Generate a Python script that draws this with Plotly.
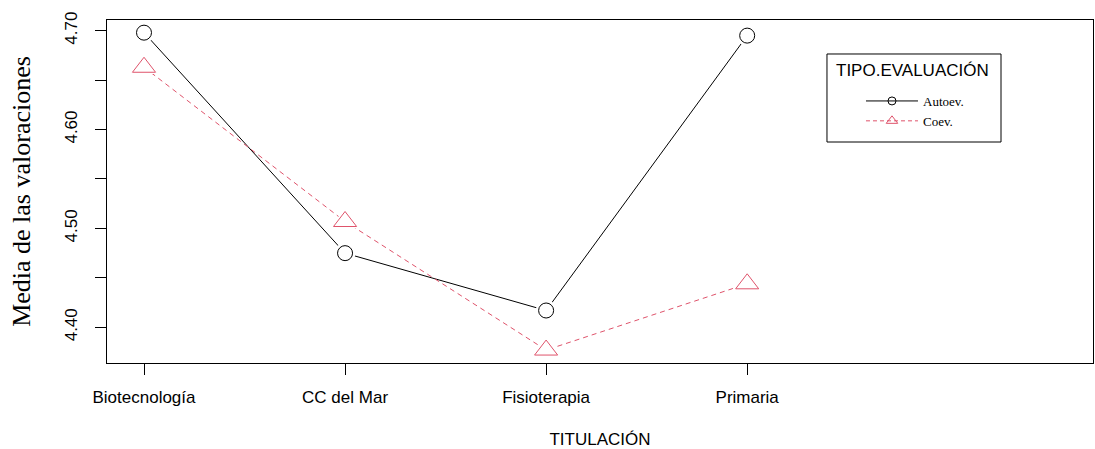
import plotly.graph_objects as go

categories = ["Biotecnología", "CC del Mar", "Fisioterapia", "Primaria"]
autoev = [4.698, 4.475, 4.417, 4.695]
coev = [4.663, 4.507, 4.377, 4.444]
ytick_vals = [4.40, 4.45, 4.50, 4.55, 4.60, 4.65, 4.70]
ytick_text = ["4.40", "", "4.50", "", "4.60", "", "4.70"]
legend_title = "TIPO.EVALUACIÓN"

RED = "#DF536B"
xpos = list(range(1, len(categories) + 1))

fig = go.Figure()

# lines
fig.add_trace(go.Scatter(x=xpos, y=autoev, mode="lines", line=dict(color="black", width=1),
                         showlegend=False, hoverinfo="skip"))
fig.add_trace(go.Scatter(x=xpos, y=coev, mode="lines", line=dict(color=RED, width=1, dash="5px,4px"),
                         showlegend=False, hoverinfo="skip"))
# white halos (emulate type="b" gaps)
fig.add_trace(go.Scatter(x=xpos, y=autoev, mode="markers",
                         marker=dict(symbol="circle", size=21, color="white", line=dict(width=0)),
                         showlegend=False, hoverinfo="skip"))
fig.add_trace(go.Scatter(x=xpos, y=coev, mode="markers",
                         marker=dict(symbol="triangle-up", size=27, color="white", line=dict(width=0)),
                         showlegend=False, hoverinfo="skip"))
# markers
fig.add_trace(go.Scatter(x=xpos, y=autoev, mode="markers", name="Autoev.",
                         marker=dict(symbol="circle-open", size=15, color="black", line=dict(width=1)),
                         showlegend=False))
fig.add_trace(go.Scatter(x=xpos, y=coev, mode="markers", name="Coev.",
                         marker=dict(symbol="triangle-up-open", size=20, color=RED, line=dict(width=1)),
                         showlegend=False))
# legend entries
fig.add_trace(go.Scatter(x=[None], y=[None], mode="lines+markers", name="Autoev.",
                         line=dict(color="black", width=1),
                         marker=dict(symbol="circle-open", size=8, color="black", line=dict(width=1))))
fig.add_trace(go.Scatter(x=[None], y=[None], mode="lines+markers", name="Coev.",
                         line=dict(color=RED, width=1, dash="4px,3px"),
                         marker=dict(symbol="triangle-up-open", size=10, color=RED, line=dict(width=1))))

fig.update_layout(
    width=1095, height=449,
    margin=dict(l=107, r=2, t=20, b=86, autoexpand=False),
    paper_bgcolor="white", plot_bgcolor="white",
    font=dict(family="Liberation Sans", size=17, color="black"),
    xaxis=dict(
        automargin=False,
        range=[0.816, 5.72], tickvals=xpos, ticktext=categories,
        showline=True, mirror=True, linecolor="black", linewidth=1,
        ticks="outside", ticklen=11, tickcolor="black", tickwidth=1,
        showgrid=False, zeroline=False, ticklabelstandoff=8,
        tickfont=dict(family="Liberation Sans", size=17, color="black"),
        title=dict(text="TITULACIÓN", font=dict(family="Liberation Sans", size=17, color="black"), standoff=30),
    ),
    yaxis=dict(
        automargin=False,
        range=[4.3639, 4.7108], tickvals=ytick_vals, ticktext=ytick_text,
        showline=True, mirror=True, linecolor="black", linewidth=1,
        ticks="outside", ticklen=11, tickcolor="black", tickwidth=1,
        showgrid=False, zeroline=False, tickangle=-90, ticklabelstandoff=11,
        tickfont=dict(family="Liberation Sans", size=17, color="black"),
        title=dict(text="Media de las valoraciones", font=dict(family="Liberation Serif", size=26, color="black"), standoff=24),
    ),
    legend=dict(
        x=0.7647, y=0.8076, xanchor="left", yanchor="top",
        borderwidth=0, bgcolor="rgba(0,0,0,0)",
        font=dict(family="Liberation Serif", size=13, color="black"),
        itemwidth=52, tracegroupgap=0,
    ),
    shapes=[dict(type="rect", xref="paper", yref="paper", x0=0.7302, x1=0.9067, y0=0.6443, y1=0.9009,
                 line=dict(color="black", width=1), fillcolor="white", layer="below")],
    annotations=[dict(text=legend_title, xref="paper", yref="paper", x=0.8169, y=0.8542,
                      xanchor="center", yanchor="middle", showarrow=False,
                      font=dict(family="Liberation Sans", size=17, color="black"))],
)

fig.write_html("out.html", config={"displayModeBar": False},
               post_script="document.body.style.margin='0';")
